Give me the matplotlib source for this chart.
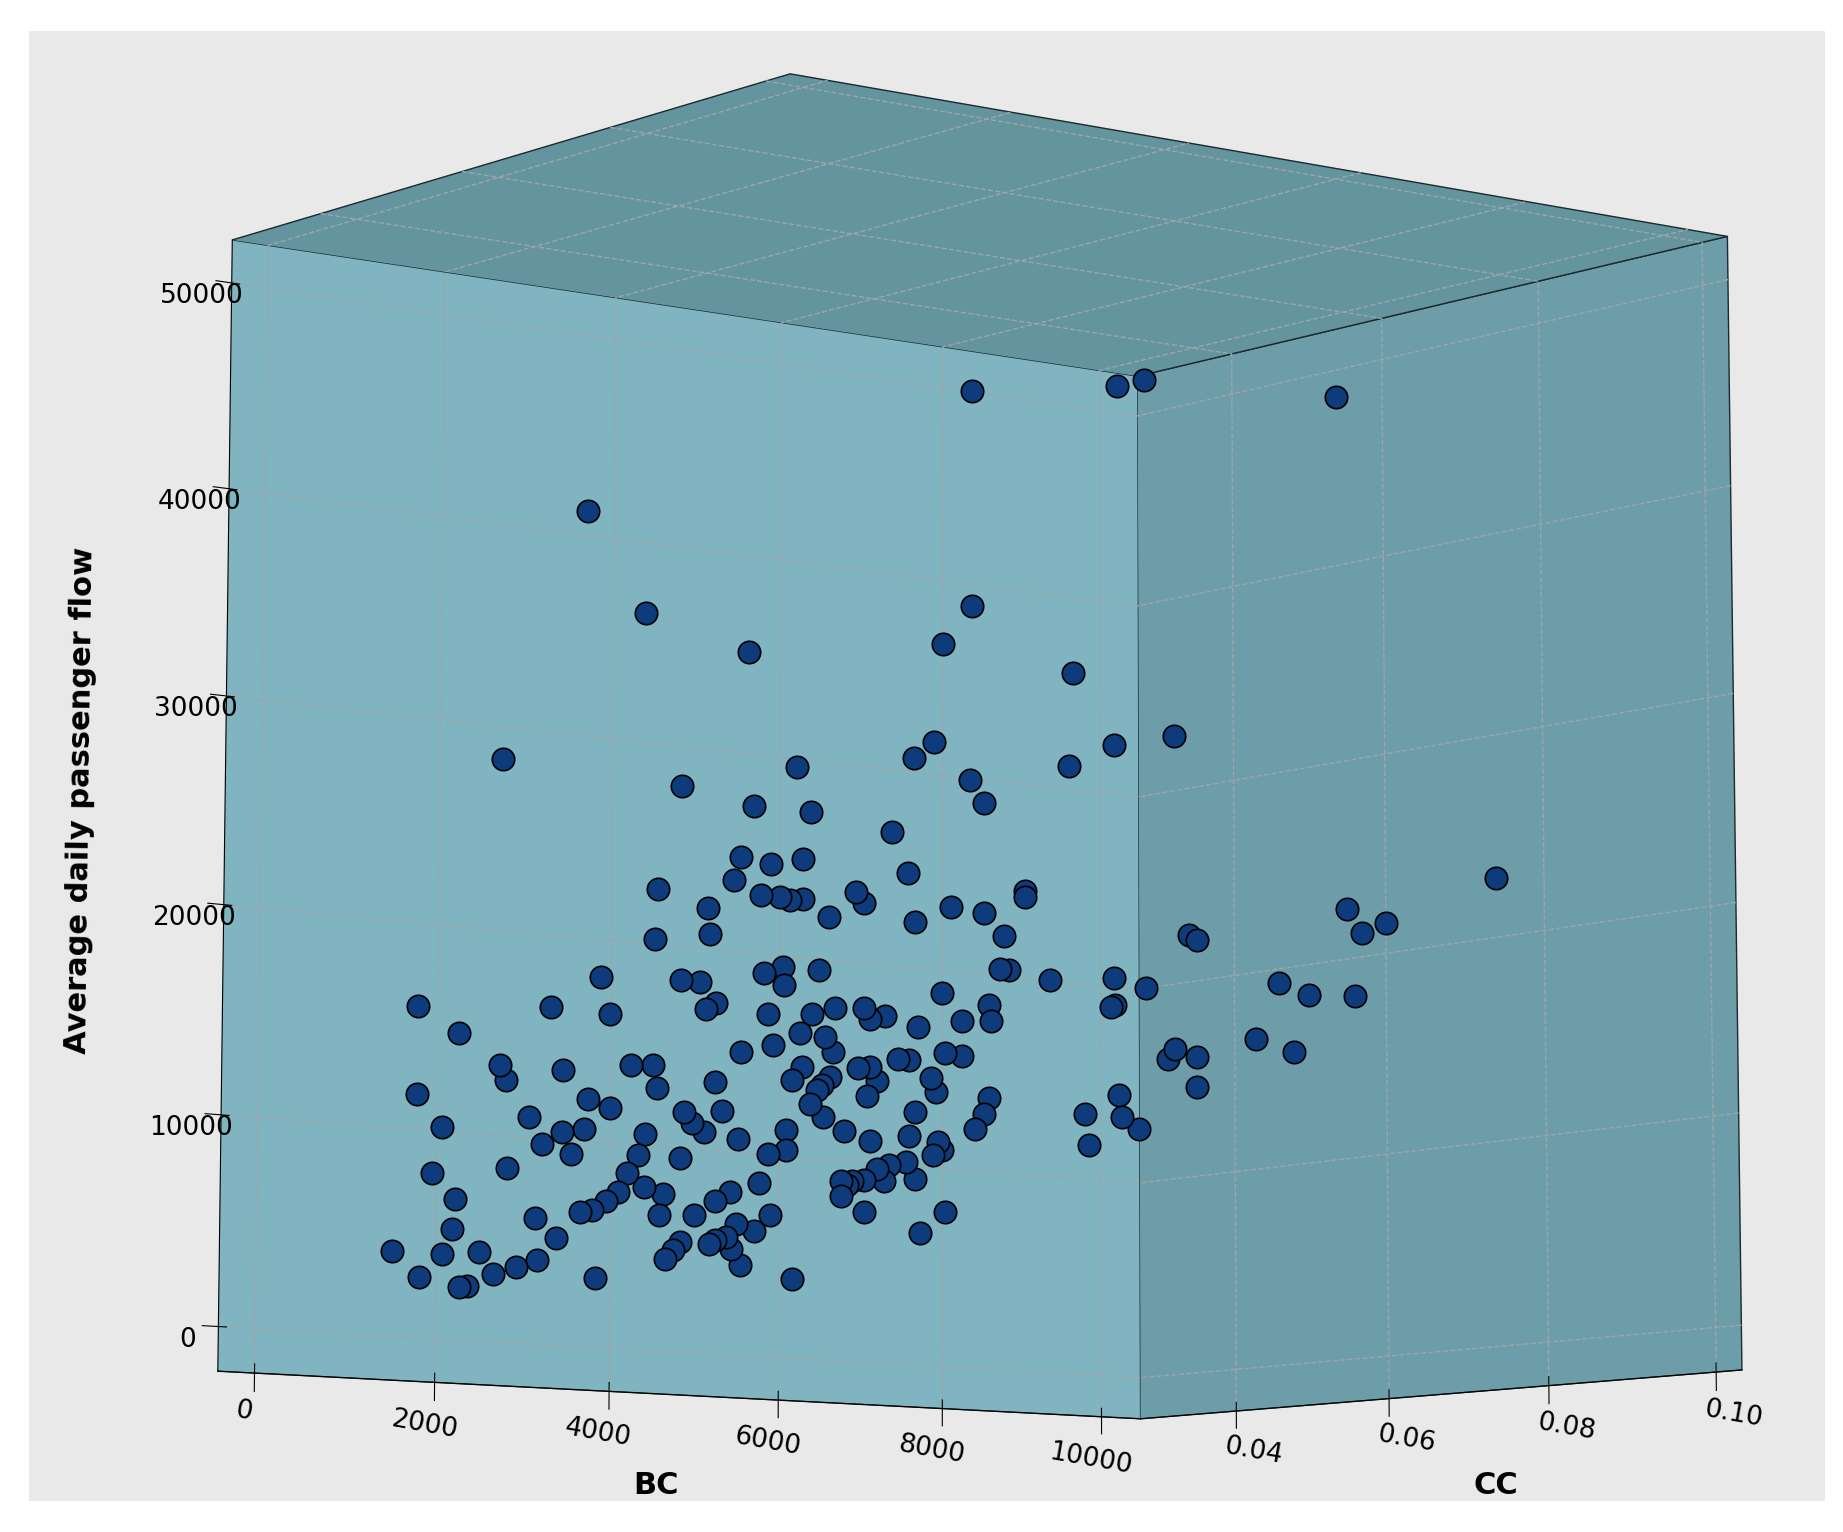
import numpy as np
import matplotlib.pyplot as plt
from matplotlib.patches import Rectangle

# front-wall points (BC, CC, flow)
bc_front = [9945, 8100, 3440, 8100, 4130, 7730, 5360, 9380, 9900, 9330, 7620, 7380, 5940, 8070, 8250, 2480,
            4570, 5430, 6120, 7110, 5280, 5630, 6020, 7300, 8760, 8760, 5190, 6670, 7840, 8250, 6770, 5520,
            5750, 5860, 6020, 4290, 7390, 6340, 4880, 8500, 4910, 4260, 8450, 8560, 9080, 9900, 6220, 5780,
            5560, 9900, 9860, 7730, 5800, 4570, 4790, 3630, 8310, 6410, 6770, 7980, 8340, 7020, 6130, 6840,
            4980, 7430, 5610, 4870, 3740, 3050, 1540, 5990, 6290, 7770, 7980, 5670, 6390, 7180, 7320, 5280,
            2010, 6840, 6700, 6020, 7590, 9950, 6930, 6350, 3990, 4240, 7650, 5900, 6260, 8310, 2480, 3200,
            4980, 9520, 9990, 6200, 6800, 8250, 4290, 2550, 6110, 7400, 6270, 3490, 8140, 5060, 4610, 3740,
            1540, 9570, 6530, 7320, 4710, 7680, 5830, 6840, 2810, 4850, 7730, 5250, 3440, 7620, 4150, 3190,
            1820, 5830, 5610, 7290, 7070, 2960, 6930, 4070, 4570, 3300, 7400, 6770, 6630, 7020, 6490, 6560,
            3950, 2560, 5500, 6490, 4150, 5160, 1710, 4370, 3840, 7770, 4980, 6770, 3710, 5640, 1980, 4730,
            3540, 3400, 7460, 4330, 5230, 5450, 5120, 2890, 4980, 1950, 3130, 4570, 4920, 5180, 4490, 4400,
            5280, 2250, 1270, 1840, 2910, 5910, 2680, 3580, 2420, 1580, 2120, 2030]
flow_front = [50970, 49600, 40800, 38500, 36100, 36400, 34800, 35700, 32200, 30900, 31300, 30400, 29300, 29600,
              28500, 28100, 27700, 27100, 27100, 26500, 24500, 24300, 24700, 24500, 24200, 23900, 23300, 23300,
              23000, 22900, 22800, 22700, 22700, 22600, 22700, 22500, 22100, 21900, 21800, 21800, 20500, 20000,
              20100, 20100, 19800, 20200, 19200, 19200, 18800, 18800, 18700, 18600, 18300, 18100, 18100, 17900,
              18200, 17400, 17500, 17300, 17400, 17200, 17000, 17000, 17100, 16800, 16800, 16800, 16100, 16200,
              15700, 16000, 15900, 15600, 15500, 15300, 15200, 15100, 15100, 14800, 14600, 14600, 14500, 14300,
              14300, 14200, 13900, 13900, 13700, 13800, 13600, 13600, 13500, 13500, 13200, 13200, 13200, 13100,
              13100, 13200, 13100, 12700, 12700, 12500, 12500, 12500, 11900, 11900, 11900, 11800, 11600, 11500,
              11500, 11500, 11300, 11300, 11100, 11100, 11100, 10900, 10800, 10700, 10700, 10500, 10400, 10400,
              10400, 10200, 10000, 10100, 9850, 9970, 9740, 9510, 9510, 9340, 9340, 9160, 9160, 8930, 8820, 8930,
              8760, 8590, 8420, 8250, 8360, 8020, 7790, 7850, 7730, 7500, 7450, 7620, 7330, 7330, 6990, 6820,
              6590, 6590, 6470, 6360, 6470, 6470, 6300, 6010, 5610, 5900, 5440, 5150, 5040, 5210, 5210, 5040,
              4810, 4350, 4300, 4120, 3890, 3890, 3890, 3780, 3490, 3210, 3090, 2750, 2460, 2350]
cc_front = [0.03] * len(bc_front)

# side-wall points (near BC max)
cc_side = [0.030, 0.056, 0.034, 0.036, 0.037, 0.030, 0.057, 0.059, 0.062, 0.076, 0.048, 0.052, 0.034,
           0.033, 0.037, 0.045, 0.058, 0.037, 0.050, 0.029]
flow_side = [51500, 48300, 32600, 22200, 21900, 19800, 22300, 21000, 21300, 22700, 19100, 18300, 16500,
             16000, 15900, 16400, 17900, 14400, 15500, 12600]
bc_side = [10300] * len(cc_side)

bc = bc_front + bc_side
cc = cc_front + cc_side
flow = flow_front + flow_side

fig = plt.figure(figsize=(18.43, 15.32), dpi=100)
fig.patch.set_facecolor('white')
fig.patches.append(Rectangle((0.016, 0.02), 0.974, 0.96, transform=fig.transFigure,
                             facecolor='#e9e9e9', edgecolor='none', zorder=-10))
ax = fig.add_subplot(111, projection='3d', computed_zorder=False)
ax.set_facecolor('none')
ax.set_position([0.02, -0.035, 1.0, 1.0])

# mpl x = CC, y = BC, z = flow
ax.scatter(cc, bc, flow, s=260, c='#0e3b7c', edgecolors='black', linewidths=1.2, depthshade=False, alpha=1)

ax.set_xlim(0.027, 0.103)
ax.set_ylim(-400, 10500)
ax.set_zlim(-2100, 52100)
ax.set_yticks([0, 2000, 4000, 6000, 8000, 10000])
ax.set_xticks([0.04, 0.06, 0.08, 0.10])
ax.set_xticklabels(['0.04', '0.06', '0.08', '0.10'])
ax.set_zticks([0, 10000, 20000, 30000, 40000, 50000])

ax.xaxis.set_pane_color('#80b4c0')
ax.yaxis.set_pane_color('#6d9da8')
ax.zaxis.set_pane_color('#64949e')
for a in (ax.xaxis, ax.yaxis, ax.zaxis):
    a._axinfo['grid'].update(color='#9aa7aa', linestyle='--', linewidth=1.0)
    a.pane.set_edgecolor('#1a2a2e')
    a.set_tick_params(labelsize=19)
for t in ax.xaxis.get_ticklabels() + ax.yaxis.get_ticklabels():
    t.set_rotation(-10)

ax.set_ylabel('BC', fontsize=22, fontweight='bold', labelpad=24)
ax.set_xlabel('CC', fontsize=22, fontweight='bold', labelpad=24)
ax.set_zlabel('Average daily passenger flow', fontsize=22, fontweight='bold', labelpad=34)
ax.xaxis.set_ticks_position('lower')
ax.yaxis.set_ticks_position('lower')
ax.xaxis.set_label_position('lower')
ax.yaxis.set_label_position('lower')
ax.zaxis.set_ticks_position('lower')
ax.zaxis.set_label_position('lower')

ax.view_init(elev=-8, azim=-38)
ax.set_box_aspect((0.8, 1.0, 0.97), zoom=1.2)

plt.savefig('out.png', dpi=100, facecolor=fig.get_facecolor())
